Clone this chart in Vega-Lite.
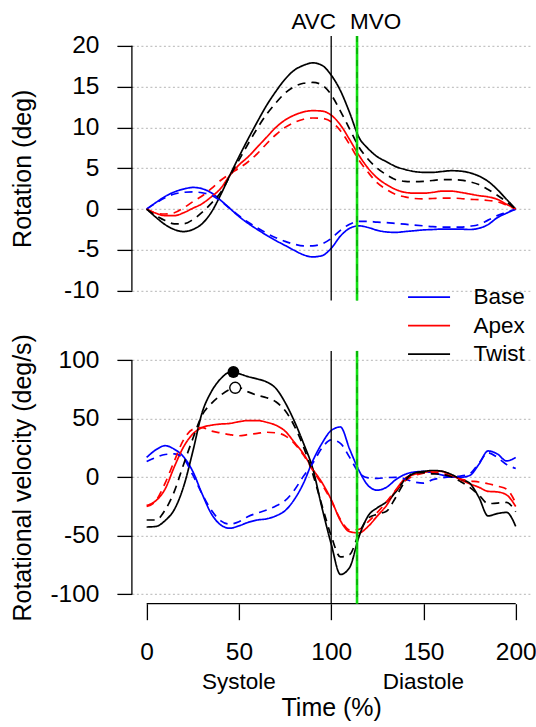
{
"$schema":"https://vega.github.io/schema/vega-lite/v6.json",
"autosize":{"type":"none"},
"padding":{"left":131.9,"top":35.9,"right":404.1,"bottom":691.1},
"config":{"font":"Liberation Sans","view":{"stroke":null},
 "axis":{"domain":false,"labelFont":"Liberation Sans","titleFont":"Liberation Sans","labelFontSize":24.5,"titleFontSize":25,"titleFontWeight":"normal","labelColor":"#000","titleColor":"#000","tickColor":"#000","tickWidth":1.3,"gridColor":"#c4c4c4","gridDash":[2,2.5],"gridWidth":1.2,"labelFlush":false,"labelOverlap":false,"labelBound":false,"labelExpr":"'' + datum.value"},
 "legend":{"labelFont":"Liberation Sans"}},
"datasets":{
"curves":[
{"p":"rot","k":"solid","t":0,"Base":0,"Apex":0,"Twist":0},
{"p":"rot","k":"solid","t":5,"Base":0.8,"Apex":-0.5,"Twist":-1.0},
{"p":"rot","k":"solid","t":10,"Base":1.55,"Apex":-0.8,"Twist":-1.9},
{"p":"rot","k":"solid","t":15,"Base":2.1,"Apex":-0.8,"Twist":-2.5},
{"p":"rot","k":"solid","t":20,"Base":2.45,"Apex":-0.45,"Twist":-2.75},
{"p":"rot","k":"solid","t":25,"Base":2.65,"Apex":0.1,"Twist":-2.5},
{"p":"rot","k":"solid","t":30,"Base":2.5,"Apex":0.65,"Twist":-1.8},
{"p":"rot","k":"solid","t":35,"Base":2.0,"Apex":1.5,"Twist":-0.4},
{"p":"rot","k":"solid","t":40,"Base":1.1,"Apex":2.5,"Twist":1.7},
{"p":"rot","k":"solid","t":45,"Base":0.1,"Apex":4.1,"Twist":4.1},
{"p":"rot","k":"solid","t":50,"Base":-0.9,"Apex":5.4,"Twist":6.4},
{"p":"rot","k":"solid","t":55,"Base":-1.75,"Apex":6.4,"Twist":8.6},
{"p":"rot","k":"solid","t":60,"Base":-2.5,"Apex":7.6,"Twist":10.7},
{"p":"rot","k":"solid","t":65,"Base":-3.2,"Apex":8.8,"Twist":12.7},
{"p":"rot","k":"solid","t":70,"Base":-3.85,"Apex":10.0,"Twist":14.4},
{"p":"rot","k":"solid","t":75,"Base":-4.45,"Apex":10.9,"Twist":15.9},
{"p":"rot","k":"solid","t":80,"Base":-5.05,"Apex":11.5,"Twist":17.0},
{"p":"rot","k":"solid","t":85,"Base":-5.6,"Apex":11.9,"Twist":17.6},
{"p":"rot","k":"solid","t":90,"Base":-5.85,"Apex":12.05,"Twist":17.9},
{"p":"rot","k":"solid","t":95,"Base":-5.7,"Apex":12.0,"Twist":17.6},
{"p":"rot","k":"solid","t":100,"Base":-4.8,"Apex":11.5,"Twist":16.4},
{"p":"rot","k":"solid","t":105,"Base":-3.3,"Apex":10.3,"Twist":14.5},
{"p":"rot","k":"solid","t":110,"Base":-2.35,"Apex":8.5,"Twist":11.8},
{"p":"rot","k":"solid","t":115,"Base":-2.05,"Apex":6.6,"Twist":8.8},
{"p":"rot","k":"solid","t":120,"Base":-2.25,"Apex":5.0,"Twist":7.4},
{"p":"rot","k":"solid","t":125,"Base":-2.6,"Apex":3.8,"Twist":6.4},
{"p":"rot","k":"solid","t":130,"Base":-2.8,"Apex":3.0,"Twist":5.8},
{"p":"rot","k":"solid","t":135,"Base":-2.85,"Apex":2.4,"Twist":5.2},
{"p":"rot","k":"solid","t":140,"Base":-2.75,"Apex":2.05,"Twist":4.85},
{"p":"rot","k":"solid","t":145,"Base":-2.65,"Apex":1.95,"Twist":4.6},
{"p":"rot","k":"solid","t":150,"Base":-2.55,"Apex":1.95,"Twist":4.5},
{"p":"rot","k":"solid","t":155,"Base":-2.5,"Apex":2.05,"Twist":4.5},
{"p":"rot","k":"solid","t":160,"Base":-2.45,"Apex":2.2,"Twist":4.6},
{"p":"rot","k":"solid","t":165,"Base":-2.45,"Apex":2.2,"Twist":4.7},
{"p":"rot","k":"solid","t":170,"Base":-2.45,"Apex":2.05,"Twist":4.65},
{"p":"rot","k":"solid","t":175,"Base":-2.5,"Apex":1.85,"Twist":4.45},
{"p":"rot","k":"solid","t":180,"Base":-2.35,"Apex":1.65,"Twist":4.05},
{"p":"rot","k":"solid","t":185,"Base":-1.9,"Apex":1.5,"Twist":3.4},
{"p":"rot","k":"solid","t":190,"Base":-1.05,"Apex":1.2,"Twist":2.4},
{"p":"rot","k":"solid","t":195,"Base":-0.5,"Apex":0.6,"Twist":1.2},
{"p":"rot","k":"solid","t":200,"Base":0,"Apex":0,"Twist":0},
{"p":"rot","k":"dashed","t":0,"Base":0,"Apex":0,"Twist":0},
{"p":"rot","k":"dashed","t":5,"Base":0.75,"Apex":-0.5,"Twist":-0.8},
{"p":"rot","k":"dashed","t":10,"Base":1.4,"Apex":-0.6,"Twist":-1.4},
{"p":"rot","k":"dashed","t":15,"Base":1.85,"Apex":-0.45,"Twist":-1.8},
{"p":"rot","k":"dashed","t":20,"Base":2.05,"Apex":0.15,"Twist":-1.8},
{"p":"rot","k":"dashed","t":25,"Base":2.1,"Apex":0.9,"Twist":-1.3},
{"p":"rot","k":"dashed","t":30,"Base":2.0,"Apex":1.6,"Twist":-0.4},
{"p":"rot","k":"dashed","t":35,"Base":1.7,"Apex":2.5,"Twist":0.7},
{"p":"rot","k":"dashed","t":40,"Base":1.0,"Apex":3.5,"Twist":2.0},
{"p":"rot","k":"dashed","t":45,"Base":0.1,"Apex":4.3,"Twist":4.0},
{"p":"rot","k":"dashed","t":50,"Base":-0.8,"Apex":5.0,"Twist":6.0},
{"p":"rot","k":"dashed","t":55,"Base":-1.6,"Apex":5.8,"Twist":8.0},
{"p":"rot","k":"dashed","t":60,"Base":-2.3,"Apex":6.8,"Twist":9.9},
{"p":"rot","k":"dashed","t":65,"Base":-2.95,"Apex":8.0,"Twist":11.6},
{"p":"rot","k":"dashed","t":70,"Base":-3.5,"Apex":9.1,"Twist":13.0},
{"p":"rot","k":"dashed","t":75,"Base":-3.95,"Apex":10.0,"Twist":14.2},
{"p":"rot","k":"dashed","t":80,"Base":-4.3,"Apex":10.6,"Twist":15.0},
{"p":"rot","k":"dashed","t":85,"Base":-4.5,"Apex":11.0,"Twist":15.4},
{"p":"rot","k":"dashed","t":90,"Base":-4.5,"Apex":11.15,"Twist":15.5},
{"p":"rot","k":"dashed","t":95,"Base":-4.25,"Apex":11.1,"Twist":15.2},
{"p":"rot","k":"dashed","t":100,"Base":-3.6,"Apex":10.7,"Twist":14.0},
{"p":"rot","k":"dashed","t":105,"Base":-2.6,"Apex":9.6,"Twist":12.0},
{"p":"rot","k":"dashed","t":110,"Base":-1.85,"Apex":7.9,"Twist":9.8},
{"p":"rot","k":"dashed","t":115,"Base":-1.5,"Apex":6.0,"Twist":7.6},
{"p":"rot","k":"dashed","t":120,"Base":-1.5,"Apex":4.5,"Twist":6.1},
{"p":"rot","k":"dashed","t":125,"Base":-1.6,"Apex":3.2,"Twist":5.0},
{"p":"rot","k":"dashed","t":130,"Base":-1.65,"Apex":2.4,"Twist":4.2},
{"p":"rot","k":"dashed","t":135,"Base":-1.75,"Apex":1.8,"Twist":3.6},
{"p":"rot","k":"dashed","t":140,"Base":-1.85,"Apex":1.5,"Twist":3.4},
{"p":"rot","k":"dashed","t":145,"Base":-1.95,"Apex":1.3,"Twist":3.35},
{"p":"rot","k":"dashed","t":150,"Base":-2.05,"Apex":1.25,"Twist":3.4},
{"p":"rot","k":"dashed","t":155,"Base":-2.15,"Apex":1.3,"Twist":3.5},
{"p":"rot","k":"dashed","t":160,"Base":-2.2,"Apex":1.35,"Twist":3.6},
{"p":"rot","k":"dashed","t":165,"Base":-2.2,"Apex":1.35,"Twist":3.6},
{"p":"rot","k":"dashed","t":170,"Base":-2.2,"Apex":1.3,"Twist":3.55},
{"p":"rot","k":"dashed","t":175,"Base":-2.1,"Apex":1.2,"Twist":3.35},
{"p":"rot","k":"dashed","t":180,"Base":-1.9,"Apex":1.15,"Twist":3.0},
{"p":"rot","k":"dashed","t":185,"Base":-1.35,"Apex":1.05,"Twist":2.4},
{"p":"rot","k":"dashed","t":190,"Base":-0.8,"Apex":0.9,"Twist":1.7},
{"p":"rot","k":"dashed","t":195,"Base":-0.4,"Apex":0.5,"Twist":0.9},
{"p":"rot","k":"dashed","t":200,"Base":0,"Apex":0,"Twist":0},
{"p":"vel","k":"solid","t":0,"Base":17,"Apex":-24,"Twist":-42.5},
{"p":"vel","k":"solid","t":5,"Base":23.5,"Apex":-20,"Twist":-42},
{"p":"vel","k":"solid","t":10,"Base":27,"Apex":-10,"Twist":-37},
{"p":"vel","k":"solid","t":15,"Base":24,"Apex":9,"Twist":-27.5},
{"p":"vel","k":"solid","t":20,"Base":17.5,"Apex":26,"Twist":-8},
{"p":"vel","k":"solid","t":25,"Base":5,"Apex":37,"Twist":22},
{"p":"vel","k":"solid","t":30,"Base":-14,"Apex":42.5,"Twist":55},
{"p":"vel","k":"solid","t":35,"Base":-31,"Apex":44.5,"Twist":73},
{"p":"vel","k":"solid","t":40,"Base":-40.5,"Apex":45.5,"Twist":84},
{"p":"vel","k":"solid","t":45,"Base":-43.5,"Apex":46,"Twist":89.5},
{"p":"vel","k":"solid","t":50,"Base":-41.5,"Apex":47.5,"Twist":88.5},
{"p":"vel","k":"solid","t":55,"Base":-38.5,"Apex":48.5,"Twist":86},
{"p":"vel","k":"solid","t":60,"Base":-36.5,"Apex":48.5,"Twist":84},
{"p":"vel","k":"solid","t":65,"Base":-35.5,"Apex":47,"Twist":81.5},
{"p":"vel","k":"solid","t":70,"Base":-33,"Apex":44.5,"Twist":76},
{"p":"vel","k":"solid","t":75,"Base":-28.5,"Apex":39.5,"Twist":64},
{"p":"vel","k":"solid","t":80,"Base":-19,"Apex":30,"Twist":48},
{"p":"vel","k":"solid","t":85,"Base":-5,"Apex":20,"Twist":29},
{"p":"vel","k":"solid","t":90,"Base":14,"Apex":7,"Twist":7.5},
{"p":"vel","k":"solid","t":95,"Base":29,"Apex":-4.5,"Twist":-26},
{"p":"vel","k":"solid","t":100,"Base":40,"Apex":-19,"Twist":-57},
{"p":"vel","k":"solid","t":105,"Base":43,"Apex":-37,"Twist":-83},
{"p":"vel","k":"solid","t":110,"Base":24,"Apex":-46.5,"Twist":-77},
{"p":"vel","k":"solid","t":115,"Base":6,"Apex":-47.5,"Twist":-51},
{"p":"vel","k":"solid","t":120,"Base":-7,"Apex":-42,"Twist":-33},
{"p":"vel","k":"solid","t":125,"Base":-11,"Apex":-33,"Twist":-26},
{"p":"vel","k":"solid","t":130,"Base":-8.5,"Apex":-24,"Twist":-21},
{"p":"vel","k":"solid","t":135,"Base":-2,"Apex":-11,"Twist":-12.5},
{"p":"vel","k":"solid","t":140,"Base":2.5,"Apex":-1,"Twist":-2},
{"p":"vel","k":"solid","t":145,"Base":4.5,"Apex":2.5,"Twist":3.5},
{"p":"vel","k":"solid","t":150,"Base":5,"Apex":4,"Twist":5},
{"p":"vel","k":"solid","t":155,"Base":3.8,"Apex":5.5,"Twist":5.8},
{"p":"vel","k":"solid","t":160,"Base":2,"Apex":5,"Twist":5.2},
{"p":"vel","k":"solid","t":165,"Base":0.3,"Apex":2,"Twist":2.5},
{"p":"vel","k":"solid","t":170,"Base":0,"Apex":-2,"Twist":-1.5},
{"p":"vel","k":"solid","t":175,"Base":1.5,"Apex":-5.5,"Twist":-5},
{"p":"vel","k":"solid","t":180,"Base":11,"Apex":-8.5,"Twist":-17},
{"p":"vel","k":"solid","t":185,"Base":22.5,"Apex":-12,"Twist":-33},
{"p":"vel","k":"solid","t":190,"Base":20,"Apex":-12.5,"Twist":-31},
{"p":"vel","k":"solid","t":195,"Base":14,"Apex":-15,"Twist":-30},
{"p":"vel","k":"solid","t":200,"Base":17,"Apex":-25,"Twist":-42},
{"p":"vel","k":"dashed","t":0,"Base":13.5,"Apex":-25,"Twist":-36.5},
{"p":"vel","k":"dashed","t":5,"Base":17,"Apex":-20,"Twist":-36.5},
{"p":"vel","k":"dashed","t":10,"Base":19.5,"Apex":-5,"Twist":-28},
{"p":"vel","k":"dashed","t":15,"Base":20,"Apex":14,"Twist":-12},
{"p":"vel","k":"dashed","t":20,"Base":16,"Apex":32,"Twist":11},
{"p":"vel","k":"dashed","t":25,"Base":2,"Apex":41,"Twist":33},
{"p":"vel","k":"dashed","t":30,"Base":-14,"Apex":42.5,"Twist":53},
{"p":"vel","k":"dashed","t":35,"Base":-28,"Apex":39.5,"Twist":63},
{"p":"vel","k":"dashed","t":40,"Base":-37,"Apex":38,"Twist":70},
{"p":"vel","k":"dashed","t":45,"Base":-40,"Apex":36.5,"Twist":75},
{"p":"vel","k":"dashed","t":50,"Base":-38,"Apex":35.5,"Twist":76.5},
{"p":"vel","k":"dashed","t":55,"Base":-33.5,"Apex":36.5,"Twist":73},
{"p":"vel","k":"dashed","t":60,"Base":-30.5,"Apex":37.5,"Twist":70},
{"p":"vel","k":"dashed","t":65,"Base":-28,"Apex":38.5,"Twist":68},
{"p":"vel","k":"dashed","t":70,"Base":-24.5,"Apex":38,"Twist":64.5},
{"p":"vel","k":"dashed","t":75,"Base":-20,"Apex":35.5,"Twist":57},
{"p":"vel","k":"dashed","t":80,"Base":-11,"Apex":29,"Twist":44},
{"p":"vel","k":"dashed","t":85,"Base":1,"Apex":19,"Twist":26},
{"p":"vel","k":"dashed","t":90,"Base":12,"Apex":6,"Twist":3},
{"p":"vel","k":"dashed","t":95,"Base":25,"Apex":-6,"Twist":-24},
{"p":"vel","k":"dashed","t":100,"Base":32,"Apex":-20,"Twist":-50},
{"p":"vel","k":"dashed","t":105,"Base":29,"Apex":-36,"Twist":-68},
{"p":"vel","k":"dashed","t":110,"Base":17,"Apex":-45,"Twist":-66},
{"p":"vel","k":"dashed","t":115,"Base":4,"Apex":-44.5,"Twist":-48},
{"p":"vel","k":"dashed","t":120,"Base":-0.5,"Apex":-38,"Twist":-35},
{"p":"vel","k":"dashed","t":125,"Base":-1,"Apex":-30,"Twist":-31.5},
{"p":"vel","k":"dashed","t":130,"Base":-0.3,"Apex":-21,"Twist":-29},
{"p":"vel","k":"dashed","t":135,"Base":0,"Apex":-11,"Twist":-17},
{"p":"vel","k":"dashed","t":140,"Base":-1.5,"Apex":-3,"Twist":-3.5},
{"p":"vel","k":"dashed","t":145,"Base":-4,"Apex":1.5,"Twist":4},
{"p":"vel","k":"dashed","t":150,"Base":-5,"Apex":3.5,"Twist":4},
{"p":"vel","k":"dashed","t":155,"Base":-2,"Apex":4.5,"Twist":3},
{"p":"vel","k":"dashed","t":160,"Base":-0.5,"Apex":3.5,"Twist":2.5},
{"p":"vel","k":"dashed","t":165,"Base":0.5,"Apex":1,"Twist":0.5},
{"p":"vel","k":"dashed","t":170,"Base":1,"Apex":-1.5,"Twist":-3.5},
{"p":"vel","k":"dashed","t":175,"Base":3,"Apex":-3,"Twist":-8.5},
{"p":"vel","k":"dashed","t":180,"Base":12,"Apex":-4,"Twist":-15},
{"p":"vel","k":"dashed","t":185,"Base":21,"Apex":-5.5,"Twist":-22.5},
{"p":"vel","k":"dashed","t":190,"Base":17,"Apex":-7.5,"Twist":-22},
{"p":"vel","k":"dashed","t":195,"Base":11,"Apex":-10,"Twist":-21.5},
{"p":"vel","k":"dashed","t":200,"Base":7.5,"Apex":-22,"Twist":-29.5}
],
"events":[{"event":"AVC","t":100},{"event":"MVO","t":114}],
"peaks":[{"k":"solid","t":47,"v":90},{"k":"dashed","t":48,"v":76.5}],
"phases":[{"phase":"Systole","t":50},{"phase":"Diastole","t":150}]
},
"spacing":50,
"bounds":"flush",
"vconcat":[
{
 "width":398.6,"height":264.7,
 "layer":[
  {"data":{"values":[{}]},"mark":{"type":"rule","color":"#000","strokeWidth":1.3},
   "encoding":{"x":{"datum":-8,"type":"quantitative","axis":null},"y":{"datum":-10,"type":"quantitative"},"y2":{"datum":20}}},
  {"data":{"name":"curves"},
   "transform":[{"filter":"datum.p === 'rot'"},{"fold":["Base","Apex","Twist"],"as":["series","v"]}],
   "mark":{"type":"line","interpolate":"monotone","strokeWidth":1.7},
   "encoding":{
    "x":{"field":"t","type":"quantitative","scale":{"domain":[-8,208],"nice":false,"zero":false},"axis":null},
    "y":{"field":"v","type":"quantitative","scale":{"domain":[-11.2,21.2],"nice":false,"zero":false},
         "axis":{"values":[-10,-5,0,5,10,15,20],"tickSize":15,"labelPadding":18,"grid":true,"title":"Rotation (deg)","titleAngle":-90,"titleX":-101,"titleY":132.35,"titleAlign":"center","titleBaseline":"alphabetic"}},
    "color":{"field":"series","type":"nominal","scale":{"domain":["Base","Apex","Twist"],"range":["#0000ff","#ff0000","#000000"]},
      "legend":{"orient":"none","legendX":285.9,"legendY":250,"title":null,"symbolType":"M-3,0H3","symbolSize":196,"symbolStrokeWidth":1.8,"labelFontSize":22.5,"labelOffset":33.2,"rowPadding":5.5,"padding":0,"labelColor":"#000"}},
    "strokeDash":{"field":"k","type":"nominal","scale":{"domain":["solid","dashed"],"range":[[1,0],[8,6]]},"legend":null}
   }},
  {"data":{"name":"events"},"transform":[{"filter":"datum.event === 'AVC'"}],
   "mark":{"type":"rule","color":"#000","strokeWidth":1.3},
   "encoding":{"x":{"field":"t","type":"quantitative","axis":null}}},
  {"data":{"name":"events"},"transform":[{"filter":"datum.event === 'MVO'"}],
   "mark":{"type":"rule","color":"#11e011","strokeWidth":2.6},
   "encoding":{"x":{"field":"t","type":"quantitative","axis":null}}},
  {"data":{"name":"events"},"transform":[{"filter":"datum.event === 'MVO'"}],
   "mark":{"type":"rule","color":"#009a00","strokeWidth":1.1,"strokeDash":[6,6]},
   "encoding":{"x":{"field":"t","type":"quantitative","axis":null}}},
  {"data":{"name":"events"},"transform":[{"filter":"datum.event === 'AVC'"}],
   "mark":{"type":"text","fontSize":22.5,"font":"Liberation Sans","color":"#000","baseline":"alphabetic","align":"center","dx":-17.5},
   "encoding":{"x":{"field":"t","type":"quantitative","axis":null},"y":{"datum":22,"type":"quantitative"},"text":{"field":"event"}}},
  {"data":{"name":"events"},"transform":[{"filter":"datum.event === 'MVO'"}],
   "mark":{"type":"text","fontSize":22.5,"font":"Liberation Sans","color":"#000","baseline":"alphabetic","align":"center","dx":18.7},
   "encoding":{"x":{"field":"t","type":"quantitative","axis":null},"y":{"datum":22,"type":"quantitative"},"text":{"field":"event"}}}
 ]
},
{
 "width":398.6,"height":252.8,
 "layer":[
  {"data":{"values":[{}]},"mark":{"type":"rule","color":"#000","strokeWidth":1.3},
   "encoding":{"x":{"datum":-8,"type":"quantitative"},"y":{"datum":-100,"type":"quantitative"},"y2":{"datum":100}}},
  {"data":{"values":[{}]},"mark":{"type":"rule","color":"#000","strokeWidth":1.3},
   "encoding":{"x":{"datum":0,"type":"quantitative"},"x2":{"datum":200},"y":{"datum":-108,"type":"quantitative"}}},
  {"data":{"name":"curves"},
   "transform":[{"filter":"datum.p === 'vel'"},{"fold":["Base","Apex","Twist"],"as":["series","v"]}],
   "mark":{"type":"line","interpolate":"monotone","strokeWidth":1.7},
   "encoding":{
    "x":{"field":"t","type":"quantitative","scale":{"domain":[-8,208],"nice":false,"zero":false},
         "axis":{"values":[0,50,100,150,200],"tickSize":16,"labelPadding":40,"labelBaseline":"alphabetic","grid":false,"title":"Time (%)","titleX":199.3,"titleY":111.6,"titleAlign":"center","titleBaseline":"alphabetic"}},
    "y":{"field":"v","type":"quantitative","scale":{"domain":[-108,108],"nice":false,"zero":false},
         "axis":{"values":[-100,-50,0,50,100],"tickSize":15,"labelPadding":18,"grid":true,"title":"Rotational velocity (deg/s)","titleAngle":-90,"titleX":-101,"titleY":126.4,"titleAlign":"center","titleBaseline":"alphabetic"}},
    "color":{"field":"series","type":"nominal","scale":{"domain":["Base","Apex","Twist"],"range":["#0000ff","#ff0000","#000000"]},
      "legend":{"orient":"none","legendX":285.9,"legendY":250,"title":null,"symbolType":"M-3,0H3","symbolSize":196,"symbolStrokeWidth":1.8,"labelFontSize":22.5,"labelOffset":33.2,"rowPadding":5.5,"padding":0,"labelColor":"#000"}},
    "strokeDash":{"field":"k","type":"nominal","scale":{"domain":["solid","dashed"],"range":[[1,0],[8,6]]},"legend":null}
   }},
  {"data":{"name":"events"},"transform":[{"filter":"datum.event === 'AVC'"}],
   "mark":{"type":"rule","color":"#000","strokeWidth":1.3},
   "encoding":{"x":{"field":"t","type":"quantitative"}}},
  {"data":{"name":"events"},"transform":[{"filter":"datum.event === 'MVO'"}],
   "mark":{"type":"rule","color":"#11e011","strokeWidth":2.6},
   "encoding":{"x":{"field":"t","type":"quantitative"}}},
  {"data":{"name":"events"},"transform":[{"filter":"datum.event === 'MVO'"}],
   "mark":{"type":"rule","color":"#009a00","strokeWidth":1.1,"strokeDash":[6,6]},
   "encoding":{"x":{"field":"t","type":"quantitative"}}},
  {"data":{"name":"peaks"},"transform":[{"filter":"datum.k === 'solid'"}],
   "mark":{"type":"point","shape":"circle","filled":true,"color":"#000","size":140,"opacity":1},
   "encoding":{"x":{"field":"t","type":"quantitative"},"y":{"field":"v","type":"quantitative"}}},
  {"data":{"name":"peaks"},"transform":[{"filter":"datum.k === 'dashed'"}],
   "mark":{"type":"point","shape":"circle","filled":false,"fill":"#fff","fillOpacity":1,"stroke":"#000","strokeWidth":1.4,"size":120,"opacity":1},
   "encoding":{"x":{"field":"t","type":"quantitative"},"y":{"field":"v","type":"quantitative"}}},
  {"data":{"name":"phases"},
   "mark":{"type":"text","fontSize":22.5,"font":"Liberation Sans","color":"#000","baseline":"alphabetic","align":"center"},
   "encoding":{"x":{"field":"t","type":"quantitative"},"y":{"datum":-181,"type":"quantitative"},"text":{"field":"phase"}}}
 ]
}
]
}
